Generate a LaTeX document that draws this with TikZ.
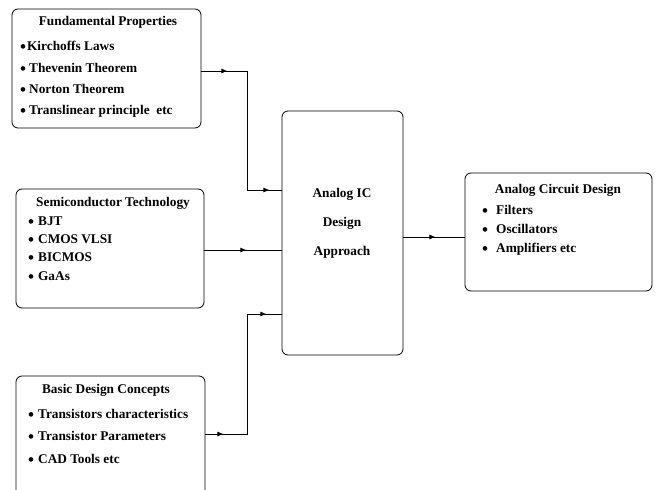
\documentclass[tikz,border=0pt]{standalone}
\usepackage{fontspec}
\setmainfont{Liberation Serif}
\usetikzlibrary{arrows.meta,positioning,decorations.markings}

\newcommand{\dotitem}[1]{\raisebox{-0.3ex}{\fontsize{17}{17}\selectfont\textbullet}\hspace{#1}}

\tikzset{
  blk/.style={draw, rounded corners=6pt, line width=0.8pt, inner sep=0pt},
  hd/.style={inner sep=0pt, font=\fontsize{13.3}{15}\selectfont\bfseries},
  itm/.style={anchor=west, inner sep=0pt, font=\fontsize{13.3}{15}\selectfont\bfseries},
  link/.style={line width=0.8pt},
  tipat/.style={postaction={decorate, decoration={markings,
      mark=at position #1 with {\arrow{Latex[length=6pt,width=5pt]}}}}}
}

\begin{document}
\begin{tikzpicture}[x=1pt, y=-1pt]
  \useasboundingbox (0,0) rectangle (657,490);
  \clip (0,0) rectangle (657,490);

  % blocks
  \node[blk, minimum width=189, minimum height=119] (fund) at (106.5,68.5) {};
  \node[blk, minimum width=188, minimum height=119] (semi) at (110,248.5) {};
  \node[blk, minimum width=189, minimum height=126] (basic) at (110.5,439) {};
  \node[blk, minimum width=121, minimum height=244] (core) at (342.5,233) {};
  \node[blk, minimum width=187, minimum height=118] (out) at (558.5,232) {};

  % Fundamental Properties
  \node[hd] (fundT) at (108,22) {Fundamental Properties};
  \node[itm] (fund1) at (20,47)  {\dotitem{1pt}Kirchoffs Laws};
  \node[itm] (fund2) at (20,69)  {\dotitem{3pt}Thevenin Theorem};
  \node[itm] (fund3) at (20,90)  {\dotitem{3pt}Norton Theorem};
  \node[itm] (fund4) at (20,111) {\dotitem{3pt}Translinear principle\ \ etc};

  % Semiconductor Technology
  \node[hd] (semiT) at (113,203) {Semiconductor Technology};
  \node[itm] (semi1) at (28,222) {\dotitem{4pt}BJT};
  \node[itm] (semi2) at (28,240) {\dotitem{4pt}CMOS VLSI};
  \node[itm] (semi3) at (28,258) {\dotitem{4pt}BICMOS};
  \node[itm] (semi4) at (28,277) {\dotitem{4pt}GaAs};

  % Basic Design Concepts
  \node[hd] (basicT) at (106,390) {Basic Design Concepts};
  \node[itm] (basic1) at (28,415) {\dotitem{4pt}Transistors characteristics};
  \node[itm] (basic2) at (28,437) {\dotitem{4pt}Transistor Parameters};
  \node[itm] (basic3) at (28,460) {\dotitem{4pt}CAD Tools etc};

  % Analog IC Design Approach
  \node[hd, align=center, font=\fontsize{13.3}{29}\selectfont\bfseries] (coreT) at (342,223)
    {Analog\ IC\\Design\\Approach};

  % Analog Circuit Design
  \node[hd] (outT) at (558,190) {Analog Circuit Design};
  \node[itm] (out1) at (482,211) {\dotitem{8pt}Filters};
  \node[itm] (out2) at (482,230) {\dotitem{8pt}Oscillators};
  \node[itm] (out3) at (482,249) {\dotitem{8pt}Amplifiers etc};

  % connectors
  \coordinate (j1) at (247,71);
  \coordinate (j2) at (247,190);
  \coordinate (j3) at (247,434);
  \coordinate (j4) at (247,314);
  \coordinate (j5) at (465,237);

  \draw[link, tipat=26pt, tipat=187pt] (fund.east |- j1) -- (j1) -- (j2) -- (core.west |- j2);
  \draw[link, tipat=42pt] (semi.east |- 0,250) -- (core.west |- 0,250);
  \draw[link, tipat=18pt, tipat=181pt] (basic.east |- j3) -- (j3) -- (j4) -- (core.west |- j4);
  \draw[link, tipat=32pt] (core.east |- j5) -- (j5);
\end{tikzpicture}
\end{document}
